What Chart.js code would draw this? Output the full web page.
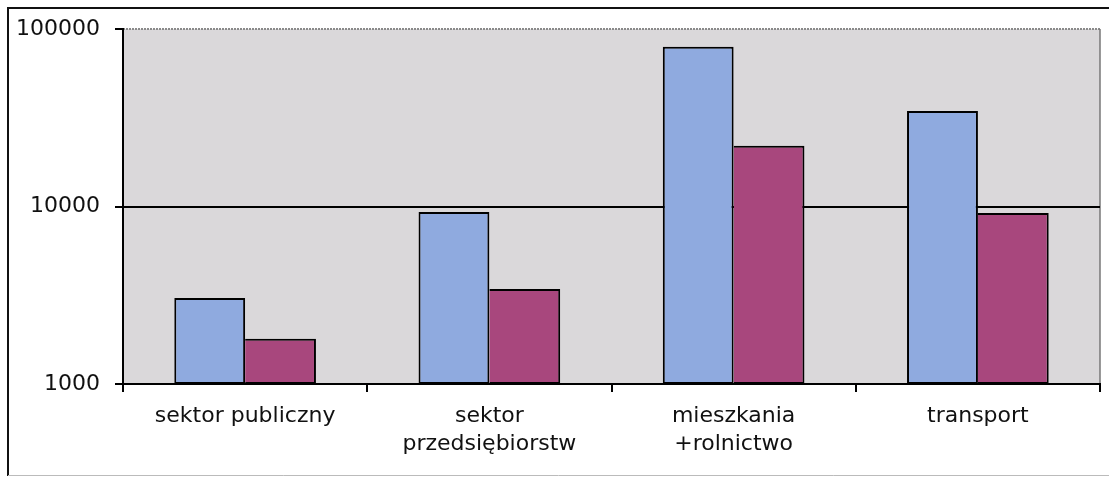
<!DOCTYPE html>
<html>
<head>
<meta charset="utf-8">
<script src="https://cdn.jsdelivr.net/npm/chart.js@4/dist/chart.umd.min.js"></script>
<style>
  html, body { margin: 0; padding: 0; background: #ffffff; }
  #wrap { width: 1109px; height: 477px; position: relative; }
</style>
</head>
<body>
<div id="wrap"><canvas id="c" width="1109" height="477"></canvas></div>
<script>
const categories = [
  "sektor publiczny",
  ["sektor", "przedsiębiorstw"],
  ["mieszkania", "+rolnictwo"],
  "transport"
];
const seriesA = [3050, 9300, 79500, 34500];
const seriesB = [1800, 3430, 22000, 9200];
const yTicks = [1000, 10000, 100000];

const frame = {
  id: 'frame',
  beforeDraw(chart) {
    const { ctx, chartArea: a } = chart;
    ctx.save();
    ctx.fillStyle = '#dad8da';
    ctx.fillRect(a.left, a.top, a.right - a.left, a.bottom - a.top);
    ctx.strokeStyle = '#8a8a8a';
    ctx.lineWidth = 2;
    ctx.setLineDash([2, 1]);
    ctx.beginPath();
    ctx.moveTo(a.left, a.top);
    ctx.lineTo(a.right, a.top);
    ctx.stroke();
    ctx.setLineDash([]);
    ctx.strokeStyle = '#777';
    ctx.lineWidth = 1.5;
    ctx.beginPath();
    ctx.moveTo(a.right, a.top);
    ctx.lineTo(a.right, a.bottom);
    ctx.stroke();
    ctx.restore();
  },
  afterDraw(chart) {
    const ctx = chart.ctx;
    ctx.save();
    ctx.strokeStyle = '#111';
    ctx.lineWidth = 2;
    ctx.beginPath();
    ctx.moveTo(8, 476);
    ctx.lineTo(8, 8);
    ctx.lineTo(1109, 8);
    ctx.stroke();
    ctx.strokeStyle = '#bbb';
    ctx.lineWidth = 1;
    ctx.beginPath();
    ctx.moveTo(8, 475.5);
    ctx.lineTo(1109, 475.5);
    ctx.stroke();
    ctx.restore();
  }
};

new Chart(document.getElementById('c'), {
  type: 'bar',
  data: {
    labels: categories,
    datasets: [
      { data: seriesA, backgroundColor: '#8faadf', borderColor: '#000', borderWidth: 2, borderSkipped: false },
      { data: seriesB, backgroundColor: '#a8477d', borderColor: '#000', borderWidth: 2, borderSkipped: 'left' }
    ]
  },
  options: {
    responsive: false,
    animation: false,
    devicePixelRatio: 1,
    layout: { padding: { left: 0, right: 9, top: 29, bottom: 0 } },
    plugins: { legend: { display: false }, tooltip: { enabled: false } },
    datasets: { bar: { categoryPercentage: 0.58, barPercentage: 1.0 } },
    scales: {
      x: {
        offset: true,
        grid: { display: true, offset: true, drawOnChartArea: false, tickLength: 8, color: '#000', lineWidth: 2 },
        border: { display: true, color: '#000', width: 2 },
        ticks: {
          color: '#111',
          font: { family: 'DejaVu Sans', size: 22, lineHeight: 1.28 },
          padding: 10,
          maxRotation: 0,
          autoSkip: false
        },
        afterFit(scale) { scale.height = 477 - 384; }
      },
      y: {
        type: 'logarithmic',
        min: 1000,
        max: 100000,
        afterBuildTicks(scale) { scale.ticks = yTicks.map(v => ({ value: v })); },
        grid: {
          color: (c) => (c.tick && c.tick.value === 10000) ? '#000' : 'rgba(0,0,0,0)',
          tickColor: '#000',
          lineWidth: 2,
          tickLength: 8
        },
        border: { display: true, color: '#000', width: 2 },
        ticks: {
          color: '#111',
          font: { family: 'DejaVu Sans', size: 22 },
          padding: 15,
          callback: (v) => String(v)
        },
        afterFit(scale) { scale.width = 123; }
      }
    }
  },
  plugins: [frame]
});
</script>
</body>
</html>
